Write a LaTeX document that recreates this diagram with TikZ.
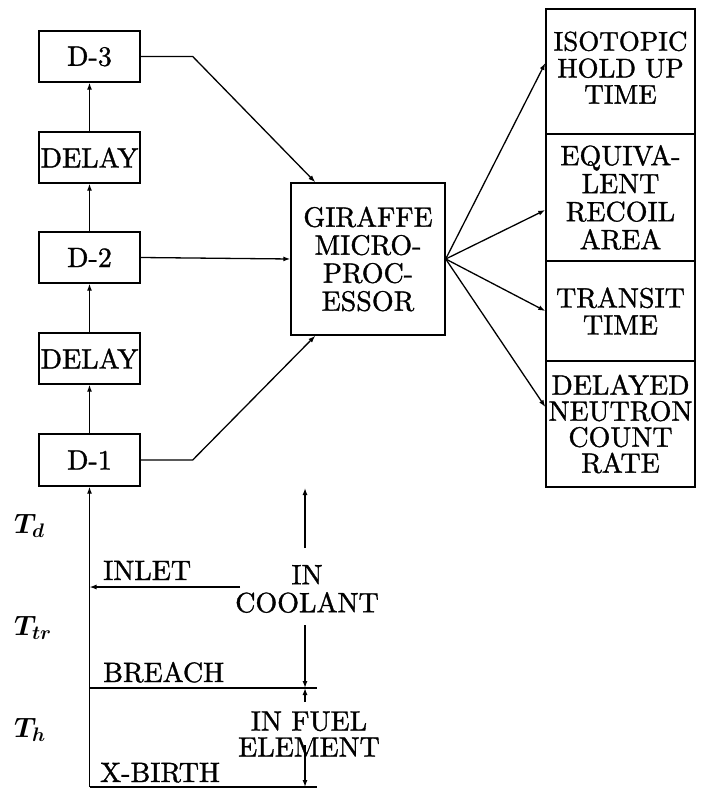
\documentclass[tikz,border=0pt]{standalone}
\usepackage{fix-cm}
\usepackage{fontspec}
\setmainfont{lmroman10-regular.otf}[FakeBold=1.2]
\usetikzlibrary{arrows.meta}
\begin{document}
\begin{tikzpicture}[x=1pt,y=-1pt,
  every node/.style={font=\fontsize{28}{27}\selectfont},
  box/.style={draw, line width=1.4pt, inner sep=0pt, align=center},
  lbox/.style={box, minimum width=101pt, minimum height=51pt},
  rbox/.style={box, minimum width=149pt},
  arr/.style={line width=1.3pt, -{Latex[length=7pt,width=5pt]}},
  ln/.style={line width=1.3pt},
  lab/.style={inner sep=0pt, anchor=base west},
  tlab/.style={lab, font=\fontsize{28}{27}\selectfont\boldmath}]
\useasboundingbox (0,0) rectangle (701,791);
% left chain
\node[lbox] (d3) at (89.5,56.5) {D-3};
\node[lbox] (dl2) at (89.5,157.5) {DELAY};
\node[lbox] (d2) at (89.5,257.5) {D-2};
\node[lbox] (dl1) at (89.5,358.5) {DELAY};
\node[lbox, minimum height=52pt] (d1) at (89.5,460) {D-1};
% processor
\node[box, minimum width=154pt, minimum height=152pt, font=\fontsize{28}{28}\selectfont] (gir) at (368,259) {GIRAFFE\\MICRO-\\PROC-\\ESSOR};
% outputs
\node[rbox, minimum height=125pt, font=\fontsize{27}{26}\selectfont] (iso) at (620.5,71.5) {\raisebox{-6pt}{\begin{tabular}{@{}c@{}}ISOTOPIC\\HOLD UP\\TIME\end{tabular}}};
\node[rbox, minimum height=127pt, font=\fontsize{28}{28}\selectfont] (equ) at (620.5,197.5) {EQUIVA-\\LENT\\RECOIL\\AREA};
\node[rbox, minimum height=100pt] (tra) at (620.5,311) {TRANSIT\\TIME};
\node[rbox, minimum height=126pt, font=\fontsize{28}{26}\selectfont] (dnc) at (620.5,424) {DELAYED\\NEUTRON\\COUNT\\RATE};
% chain arrows
\draw[arr] (d1) -- (dl1);
\draw[arr] (dl1) -- (d2);
\draw[arr] (d2) -- (dl2);
\draw[arr] (dl2) -- (d3);
% to processor
\draw[arr] (d3.east) -- ++(52,0) -- ([xshift=25pt]gir.north west);
\draw[arr] (d2.east) -- (gir.west);
\draw[arr] (d1.east) -- ++(52,0) -- ([xshift=25pt]gir.south west);
% outputs
\draw[arr] (gir.east) -- ([yshift=8.5pt]iso.west);
\draw[arr] (gir.east) -- ([yshift=-12.5pt]equ.west);
\draw[arr] (gir.east) -- (tra.west);
\draw[arr] (gir.east) -- ([yshift=17pt]dnc.west);
% bottom timeline
\coordinate (xb) at (89.5,787);
\coordinate (xe) at (317,787);
\coordinate (inl) at (240,587);
\coordinate (br) at (317,688);
\draw[arr] (xb) -- (d1.south);
\draw[arr] (inl) -- (inl -| xb);
\draw[ln] (br -| xb) -- (br);
\draw[ln] (xb) -- (xe);
\coordinate (c1) at (305,548);
\coordinate (c2) at (305,488);
\coordinate (c3) at (305,625);
\coordinate (c4) at (305,702);
\coordinate (c5) at (305,745);
\draw[arr] (c1) -- (c2);
\draw[arr] (c3) -- (c3 |- br);
\draw[arr] (c4) -- (c4 |- br);
\draw[arr] (c5) -- (c5 |- xb);
\node[inner sep=0pt, align=center, font=\fontsize{28}{28}\selectfont] (cool) at (307,589) {IN\\COOLANT};
\node[inner sep=0pt, align=center, font=\fontsize{28}{26}\selectfont] (fuel) at (309,734) {IN FUEL\\ELEMENT};
\node[lab] (tinl) at (103,580) {INLET};
\node[lab] (tbr) at (103,682) {BREACH};
\node[lab] (txb) at (100,782) {X-BIRTH};
\node[tlab] (td) at (14,533) {$T_d$};
\node[tlab] (ttr) at (14,635) {$T_{tr}$};
\node[tlab] (th) at (14,737) {$T_h$};
\end{tikzpicture}
\end{document}
